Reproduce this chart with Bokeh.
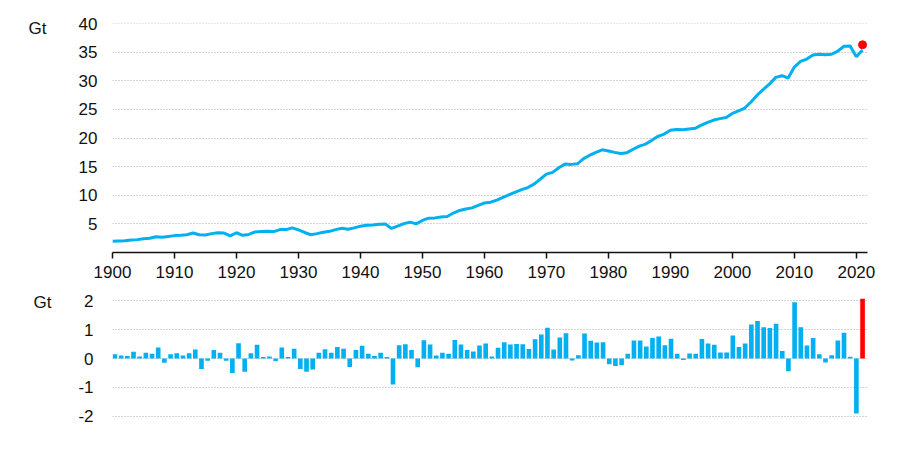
from bokeh.plotting import figure
from bokeh.layouts import column
from bokeh.models import FixedTicker, Range1d, Label, ColumnDataSource
from bokeh.embed import file_html
from bokeh.resources import INLINE

years = list(range(1900, 2022))

emissions = [
    1.95, 2.0, 2.05, 2.2, 2.25, 2.4, 2.5, 2.75, 2.65, 2.8,
    2.95, 3.0, 3.1, 3.4, 3.1, 3.05, 3.3, 3.45, 3.4, 2.9,
    3.45, 3.0, 3.15, 3.6, 3.65, 3.7, 3.65, 4.0, 4.0, 4.3,
    3.95, 3.5, 3.1, 3.3, 3.55, 3.7, 4.0, 4.25, 4.05, 4.3,
    4.6, 4.75, 4.8, 4.95, 5.0, 4.2, 4.6, 5.05, 5.3, 5.0,
    5.6, 6.0, 6.05, 6.2, 6.3, 6.9, 7.35, 7.6, 7.8, 8.25,
    8.65, 8.8, 9.15, 9.65, 10.1, 10.55, 11.0, 11.35, 11.95, 12.8,
    13.7, 14.0, 14.8, 15.45, 15.4, 15.5, 16.4, 17.0, 17.5, 17.95,
    17.75, 17.5, 17.3, 17.45, 18.05, 18.6, 18.95, 19.6, 20.3, 20.7,
    21.35, 21.5, 21.45, 21.6, 21.7, 22.25, 22.75, 23.15, 23.4, 23.6,
    24.3, 24.75, 25.25, 26.3, 27.5, 28.5, 29.45, 30.6, 30.9, 30.5,
    32.4, 33.4, 33.8, 34.5, 34.65, 34.55, 34.65, 35.2, 36.05, 36.1,
    34.2, 35.4,
]

change = [
    0.15, 0.1, 0.09, 0.23, 0.07, 0.2, 0.16, 0.38, -0.15, 0.15,
    0.18, 0.1, 0.18, 0.31, -0.36, -0.08, 0.29, 0.2, -0.08, -0.5,
    0.53, -0.46, 0.18, 0.47, 0.05, 0.07, -0.09, 0.38, 0.05, 0.34,
    -0.36, -0.46, -0.38, 0.2, 0.32, 0.2, 0.4, 0.34, -0.29, 0.29,
    0.44, 0.16, 0.09, 0.2, 0.05, -0.9, 0.46, 0.49, 0.29, -0.3,
    0.63, 0.48, 0.1, 0.2, 0.16, 0.64, 0.48, 0.29, 0.24, 0.45,
    0.52, 0.07, 0.37, 0.56, 0.48, 0.5, 0.49, 0.33, 0.66, 0.83,
    1.06, 0.31, 0.72, 0.87, -0.07, 0.11, 0.86, 0.61, 0.55, 0.56,
    -0.2, -0.26, -0.22, 0.16, 0.62, 0.62, 0.41, 0.71, 0.76, 0.46,
    0.68, 0.16, -0.05, 0.17, 0.16, 0.67, 0.52, 0.47, 0.21, 0.21,
    0.79, 0.4, 0.52, 1.17, 1.29, 1.08, 1.05, 1.2, 0.26, -0.44,
    1.94, 1.08, 0.45, 0.71, 0.15, -0.14, 0.11, 0.62, 0.89, 0.06,
    -1.9, 2.06,
]

highlight_year = [2021]
highlight_value = [36.3]

top_ticks = [5, 10, 15, 20, 25, 30, 35, 40]
bottom_ticks = [-2, -1, 0, 1, 2]
bottom_tick_labels = {-2: "-2", -1: "-1", 0: "0", 1: "1", 2: "2"}
year_ticks = list(range(1900, 2021, 10))

BLUE = "#00B0F0"
RED = "#FF0000"
FONT = "Liberation Sans"
FS = "17px"
GRID = "#a8a8a8"
INK = "#111111"

colors = [BLUE] * (len(years) - 1) + [RED]
bar_src = ColumnDataSource(dict(x=years, top=change, color=colors))
line_src = ColumnDataSource(dict(x=years, y=emissions))


def style_y(ax, ticks):
    ax.ticker = FixedTicker(ticks=ticks)
    ax.axis_line_color = None
    ax.major_tick_line_color = None
    ax.minor_tick_line_color = None
    ax.major_tick_out = 0
    ax.major_tick_in = 0
    ax.minor_tick_out = 0
    ax.minor_tick_in = 0
    ax.major_label_standoff = 15
    ax.major_label_text_font = FONT
    ax.major_label_text_font_size = FS
    ax.major_label_text_color = INK


# ---------- top panel ----------
p1 = figure(width=901, height=288, x_range=Range1d(1900, 2021.8), y_range=Range1d(0, 40.02),
            output_backend="svg", toolbar_location=None,
            min_border_left=112, min_border_right=34, min_border_top=23, min_border_bottom=36)
p1.outline_line_color = None
p1.line("x", "y", source=line_src, line_color=BLUE, line_width=3)
p1.scatter(highlight_year, highlight_value, size=8, fill_color=RED, line_color=RED)

p1.xgrid.grid_line_color = None
p1.ygrid.grid_line_color = GRID
p1.ygrid.grid_line_dash = "1 2"
p1.ygrid.grid_line_width = 1
style_y(p1.yaxis[0], top_ticks)

ax = p1.xaxis[0]
ax.ticker = FixedTicker(ticks=year_ticks)
ax.axis_line_color = INK
ax.axis_line_width = 1.5
ax.major_tick_line_color = INK
ax.major_tick_line_width = 1.5
ax.major_tick_in = 0
ax.major_tick_out = 6
ax.minor_tick_line_color = None
ax.minor_tick_out = 0
ax.major_label_standoff = 7
ax.major_label_text_font = FONT
ax.major_label_text_font_size = FS
ax.major_label_text_color = INK

p1.add_layout(Label(x=1900, y=39.13, text="Gt", x_offset=-84, text_align="left",
                    text_baseline="middle", text_font=FONT, text_font_size=FS,
                    text_color=INK), "left")

# ---------- bottom panel ----------
p2 = figure(width=901, height=152, x_range=Range1d(1899.6, 2021.8), y_range=Range1d(-2.138, 2.138),
            output_backend="svg", toolbar_location=None, x_axis_location=None,
            min_border_left=112, min_border_right=34, min_border_top=8, min_border_bottom=20)
p2.outline_line_color = None
p2.vbar(x="x", top="top", bottom=0, width=0.75, source=bar_src, fill_color="color", line_color=None)

p2.xgrid.grid_line_color = None
p2.ygrid.grid_line_color = GRID
p2.ygrid.grid_line_dash = "1 2"
p2.ygrid.grid_line_width = 1
style_y(p2.yaxis[0], bottom_ticks)
p2.yaxis[0].major_label_standoff = 19
p2.yaxis[0].major_label_overrides = bottom_tick_labels

p2.add_layout(Label(x=1899.6, y=1.93, text="Gt", x_offset=-79, text_align="left",
                    text_baseline="middle", text_font=FONT, text_font_size=FS,
                    text_color=INK), "left")

layout = column(p1, p2, spacing=0)
open("out.html", "w").write(file_html(layout, INLINE))
